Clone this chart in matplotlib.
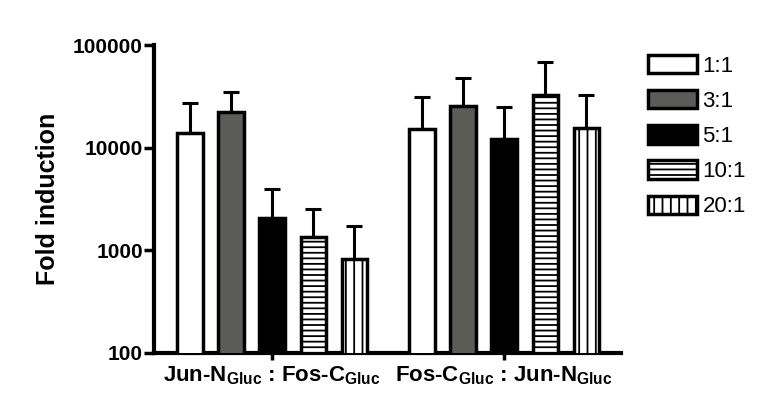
import matplotlib
matplotlib.use("Agg")
import matplotlib.pyplot as plt
import numpy as np
from matplotlib.patches import Patch

plt.rcParams['font.family'] = ['Liberation Sans', 'DejaVu Sans']
plt.rcParams['mathtext.fontset'] = 'custom'
plt.rcParams['mathtext.rm'] = 'Liberation Sans'
plt.rcParams['mathtext.bf'] = 'Liberation Sans:bold'
plt.rcParams['hatch.linewidth'] = 1.3

# data
ratios = ['1:1', '3:1', '5:1', '10:1', '20:1']
groups = [r'Jun-N$_{\mathbf{Gluc}}$ : Fos-C$_{\mathbf{Gluc}}$',
          r'Fos-C$_{\mathbf{Gluc}}$ : Jun-N$_{\mathbf{Gluc}}$']
jun_fos_mean = [14000, 22500, 2060, 1340, 830]
jun_fos_sd = [13400, 12300, 1890, 1210, 883]
fos_jun_mean = [15100, 25400, 12200, 33000, 15500]
fos_jun_sd = [15800, 22200, 12650, 35800, 16800]
y_ticks = [100, 1000, 10000, 100000]

faces = ['white', '#5b5b57', 'black', 'white', 'white']
hatches = [None, None, None, '---', '||']

fig = plt.figure(figsize=(7.66, 3.96), dpi=100)
ax = fig.add_axes([0.201, 0.109, 0.610, 0.777])

group_gap = 5.65
x1 = np.arange(len(ratios))
x2 = x1 + group_gap
width = 0.62

for i in range(len(ratios)):
    for x, m, s in ((x1[i], jun_fos_mean[i], jun_fos_sd[i]),
                    (x2[i], fos_jun_mean[i], fos_jun_sd[i])):
        ax.errorbar(x, m, yerr=[[0], [s]], color='black', lw=2.2,
                    capsize=5.5, capthick=2.2, zorder=2)
        ax.bar(x, m, width=width, color=faces[i], edgecolor='black',
               linewidth=2.5, hatch=hatches[i], zorder=3)

ax.set_yscale('log')
ax.set_ylim(100, 100000)
ax.set_xlim(-0.88, 10.5)
ax.yaxis.set_major_locator(matplotlib.ticker.FixedLocator(y_ticks))
ax.yaxis.set_minor_locator(matplotlib.ticker.NullLocator())
ax.set_yticklabels([str(t) for t in y_ticks], fontsize=15, fontweight='bold')
ax.set_xticks([x1.mean(), x2.mean()])
ax.set_xticklabels(groups, fontsize=16, fontweight='bold')
ax.tick_params(axis='y', length=7, width=2.5, pad=1)
ax.tick_params(axis='x', length=5, width=2.5, pad=3)

for side in ('top', 'right'):
    ax.spines[side].set_visible(False)
for side in ('left', 'bottom'):
    ax.spines[side].set_linewidth(3)

ax.set_ylabel('Fold induction', fontsize=18, fontweight='bold', labelpad=9)

handles = [Patch(facecolor=faces[i], edgecolor='black', linewidth=2.5,
                 hatch=hatches[i], label=ratios[i]) for i in range(len(ratios))]
fig.legend(handles=handles, loc='upper left', bbox_to_anchor=(0.846, 0.862),
           frameon=False, fontsize=16, handlelength=2.2, handleheight=0.9,
           handletextpad=0.25, labelspacing=0.6, borderpad=0, borderaxespad=0)

fig.savefig('out.png', dpi=100)
